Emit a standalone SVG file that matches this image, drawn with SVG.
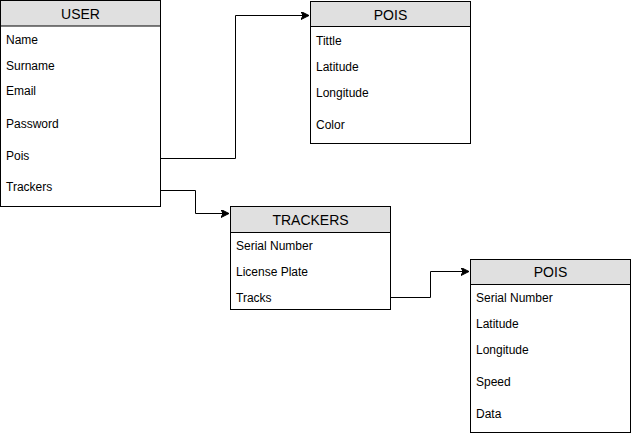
<svg xmlns="http://www.w3.org/2000/svg" width="631" height="436" viewBox="0 0 631 436">
<style>
.box{fill:#ffffff;stroke:#000000;stroke-width:1}
.hdr{fill:#e0e0e0;stroke:#000000;stroke-width:1}
.title{font-family:"Liberation Sans",Arial,sans-serif;font-size:14px;fill:#000;text-anchor:middle}
.item{font-family:"Liberation Sans",Arial,sans-serif;font-size:12px;fill:#000}
.edge{fill:none;stroke:#000;stroke-width:1}
</style>
<defs>
<marker id="arr" markerUnits="userSpaceOnUse" markerWidth="10" markerHeight="10" refX="8" refY="4" orient="auto">
<path d="M0,0 L8,4 L0,8 L2,4 Z" fill="#000" stroke="#000" stroke-width="1"/>
</marker>
</defs>
<g id="connectors">
<path class="edge" d="M160.5,158.5 H235.5 V15.5 H309" marker-end="url(#arr)"/>
<path class="edge" d="M160.5,190.5 H195.5 V213.5 H229" marker-end="url(#arr)"/>
<path class="edge" d="M390.5,297.5 H430.5 V271.5 H469" marker-end="url(#arr)"/>
</g>
<g id="user">
<rect class="box" x="0.5" y="0.5" width="160" height="206"/>
<rect class="hdr" x="0.5" y="0.5" width="160" height="25.5"/>
<text class="title" x="80.5" y="19">USER</text>
<text class="item" x="6" y="44">Name</text>
<text class="item" x="6" y="70">Surname</text>
<text class="item" x="6" y="95">Email</text>
<text class="item" x="6" y="128">Password</text>
<text class="item" x="6" y="160">Pois</text>
<text class="item" x="6" y="191">Trackers</text>
</g>
<g id="pois1">
<rect class="box" x="310.5" y="1.5" width="160" height="142"/>
<rect class="hdr" x="310.5" y="1.5" width="160" height="25"/>
<text class="title" x="390.5" y="20">POIS</text>
<text class="item" x="316" y="45">Tittle</text>
<text class="item" x="316" y="71">Latitude</text>
<text class="item" x="316" y="97">Longitude</text>
<text class="item" x="316" y="129">Color</text>
</g>
<g id="trackers">
<rect class="box" x="230.5" y="206.5" width="160" height="103"/>
<rect class="hdr" x="230.5" y="206.5" width="160" height="26"/>
<text class="title" x="310.5" y="225">TRACKERS</text>
<text class="item" x="236" y="250">Serial Number</text>
<text class="item" x="236" y="276">License Plate</text>
<text class="item" x="236" y="302">Tracks</text>
</g>
<g id="pois2">
<rect class="box" x="470.5" y="259.5" width="160" height="173"/>
<rect class="hdr" x="470.5" y="259.5" width="160" height="25"/>
<text class="title" x="550.5" y="277">POIS</text>
<text class="item" x="476" y="302">Serial Number</text>
<text class="item" x="476" y="328">Latitude</text>
<text class="item" x="476" y="354">Longitude</text>
<text class="item" x="476" y="386">Speed</text>
<text class="item" x="476" y="418">Data</text>
</g>
</svg>
